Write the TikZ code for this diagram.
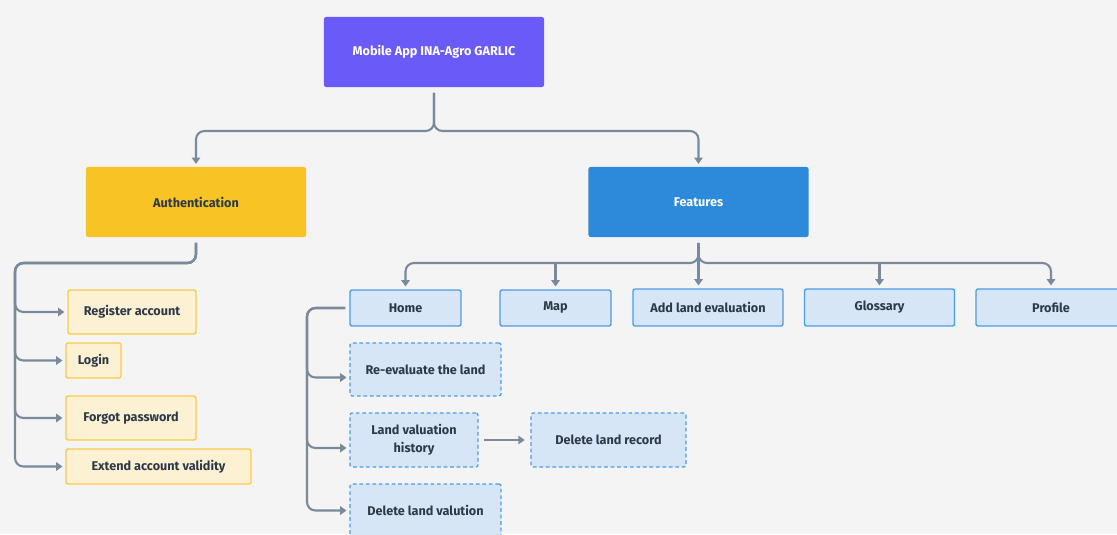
\documentclass[tikz,border=0pt]{standalone}
\usepackage{fontspec}
\setmainfont{Fira Sans}
\usepackage{xcolor}
\usepackage{tikz}
\usetikzlibrary{arrows.meta}
\definecolor{GABack}{HTML}{F4F4F4}
\definecolor{GAPurple}{HTML}{6A5AF8}
\definecolor{GAYellow}{HTML}{F7C325}
\definecolor{GABlue}{HTML}{2D8ADB}
\definecolor{GASky}{HTML}{D6E6F6}
\definecolor{GASkyLine}{HTML}{4D9CE6}
\definecolor{GACream}{HTML}{FDF1D3}
\definecolor{GACreamLine}{HTML}{F7CC4A}
\definecolor{GALine}{HTML}{7A8A9A}
\definecolor{GAText}{HTML}{2E3947}

\begin{document}
\begin{tikzpicture}[x=0.025cm,y=-0.025cm,
  every node/.style={font=\fontsize{9}{12.5}\selectfont\bfseries,text=GAText,inner sep=0pt,align=center},
  bigbox/.style={rounded corners=1.5pt,minimum width=5.5cm,minimum height=1.75cm},
  authbox/.style={draw=GACreamLine,fill=GACream,line width=1pt,rounded corners=1.5pt},
  featbox/.style={draw=GASkyLine,fill=GASky,line width=1pt,rounded corners=1.5pt},
  homebox/.style={draw=GASkyLine,fill=GASky,line width=0.9pt,dash pattern=on 2.6pt off 2pt,rounded corners=1.5pt},
  conn/.style={draw=GALine,line width=1.5pt,rounded corners=6pt,-{Triangle[length=4.5pt,width=6pt]},shorten >=2pt}]
\path[use as bounding box] (0,0) rectangle (1117,534);
\fill[GABack] (0,0) rectangle (1117,534);

\node[bigbox,fill=GAPurple,text=white] (app) at (434,52) {Mobile App INA-Agro GARLIC};
\node[bigbox,fill=GAYellow] (auth) at (196,202) {Authentication};
\node[bigbox,fill=GABlue,text=white] (feat) at (698.5,202) {Features};

\node[featbox,minimum width=2.775cm,minimum height=0.9cm] (home) at (405.5,308) {Home};
\node[featbox,minimum width=2.775cm,minimum height=0.9cm] (map) at (555.5,308) {Map};
\node[featbox,minimum width=3.75cm,minimum height=0.925cm] (addland) at (708,307.5) {Add land evaluation};
\node[featbox,minimum width=3.75cm,minimum height=0.925cm] (glossary) at (879.5,307.5) {Glossary};
\node[featbox,minimum width=3.75cm,minimum height=0.925cm] (profile) at (1051,307.5) {Profile};

\node[homebox,minimum width=3.775cm,minimum height=1.325cm] (reeval) at (425.5,369.5) {Re-evaluate the land};
\node[homebox,minimum width=3.2cm,minimum height=1.35cm] (history) at (414,440) {Land valuation\\history};
\node[homebox,minimum width=3.875cm,minimum height=1.35cm] (delrecord) at (608.5,440) {Delete land record};
\node[homebox,minimum width=3.775cm,minimum height=1.325cm] (delvalue) at (425.5,510.5) {Delete land valution};

\node[authbox,minimum width=3.2cm,minimum height=1.1cm] (register) at (132,312) {Register account};
\node[authbox,minimum width=1.375cm,minimum height=0.875cm] (login) at (93.5,360.5) {Login};
\node[authbox,minimum width=3.25cm,minimum height=1.1cm] (forgot) at (131,418) {Forgot password};
\node[authbox,minimum width=4.625cm,minimum height=0.875cm] (extend) at (158.5,466.5) {Extend account validity};

\coordinate (appsplit) at (434,131);
\coordinate (featsplit) at (698.5,263);
\coordinate (authtrunk) at (15,263);
\coordinate (hometrunk) at (307,308);

\draw[conn,shorten <=4pt] (app.south) -- (appsplit) -| (auth.north);
\draw[conn,shorten <=4pt] (app.south) -- (appsplit) -| (feat.north);

\draw[conn,shorten <=4pt] (feat.south) -- (featsplit) -| (home.north);
\draw[conn,shorten <=4pt] (feat.south) -- (featsplit) -| (profile.north);
\draw[conn,shorten <=4pt] (feat.south) -- (feat.south |- addland.north);
\draw[conn] (map.north |- featsplit) -- (map.north);
\draw[conn] (glossary.north |- featsplit) -- (glossary.north);

\draw[conn,shorten <=4pt] (auth.south) |- (authtrunk) |- (register.west);
\draw[conn,shorten <=4pt] (auth.south) |- (authtrunk) |- (login.west);
\draw[conn,shorten <=4pt] (auth.south) |- (authtrunk) |- (forgot.west);
\draw[conn,shorten <=4pt] (auth.south) |- (authtrunk) |- (extend.west);

\draw[conn,shorten <=3pt] (home.west) -- (hometrunk) |- ([yshift=-0.2cm]reeval.west);
\draw[conn,shorten <=3pt] (home.west) -- (hometrunk) |- ([yshift=-0.2cm]history.west);
\draw[conn,shorten <=3pt] (home.west) -- (hometrunk) |- (delvalue.west);

\draw[conn,shorten <=4pt,shorten >=4pt] (history) -- (delrecord);
\end{tikzpicture}
\end{document}
